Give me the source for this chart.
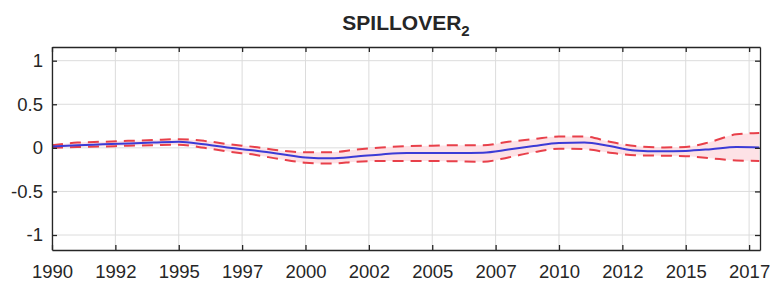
<!DOCTYPE html>
<html lang="en">
  <head>
    <meta charset="UTF-8" />
    <title>SPILLOVER 2</title>
    <style>
      body {
        margin: 0;
        background: #fff;
      }
      svg text {
        font-family: "Liberation Sans", Arial, sans-serif;
        fill: #262626;
      }
      .grid line {
        stroke: #dcdcdc;
        stroke-width: 1;
      }
      .axis path,
      .axis line {
        stroke: #262626;
        stroke-width: 1.3;
      }
      .band {
        fill: #fde2e6;
      }
      .bound {
        fill: none;
        stroke: #e8404a;
        stroke-width: 2;
        stroke-dasharray: 11 7;
      }
      .center {
        fill: none;
        stroke: #3b3bd6;
        stroke-width: 2;
      }
    </style>
  </head>
  <body>
    <script src="https://d3js.org/d3.v7.min.js"></script>
    <script>
      // values
      const years = [
        1990, 1991, 1992, 1993, 1994, 1995, 1996, 1997, 1998, 1999, 2000,
        2001, 2002, 2003, 2004, 2005, 2006, 2007, 2008, 2009, 2010, 2011,
        2012, 2013, 2014, 2015, 2016, 2017, 2017.9,
      ];
      const median = [
        0.015, 0.03, 0.04, 0.05, 0.06, 0.07, 0.04, 0.0, -0.03, -0.07, -0.11,
        -0.12, -0.1, -0.075, -0.06, -0.06, -0.06, -0.055, -0.02, 0.02, 0.055,
        0.06, 0.02, -0.03, -0.04, -0.035, -0.015, 0.01, 0.005,
      ];
      const upper = [
        0.03, 0.06, 0.07, 0.08, 0.09, 0.1, 0.08, 0.04, 0.01, -0.03, -0.05,
        -0.05, -0.02, 0.005, 0.02, 0.025, 0.03, 0.03, 0.07, 0.1, 0.13, 0.13,
        0.07, 0.02, 0.005, 0.01, 0.07, 0.155, 0.17,
      ];
      const lower = [
        0.0, 0.01, 0.015, 0.025, 0.03, 0.035, 0.0, -0.045, -0.08, -0.13,
        -0.17, -0.18, -0.16, -0.15, -0.15, -0.15, -0.155, -0.16, -0.11,
        -0.05, -0.01, -0.015, -0.055, -0.085, -0.09, -0.095, -0.12, -0.145,
        -0.15,
      ];
      const xTicks = [
        1990, 1992.5, 1995, 1997.5, 2000, 2002.5, 2005, 2007.5, 2010,
        2012.5, 2015, 2017.5,
      ];
      const xTickLabels = [
        "1990", "1992", "1995", "1997", "2000", "2002", "2005", "2007",
        "2010", "2012", "2015", "2017",
      ];
      const yTicks = [-1, -0.5, 0, 0.5, 1];

      function makeChart() {
        const width = 780;
        const height = 292;
        const margin = { top: 47, right: 20, bottom: 42, left: 52 };

        const svg = d3
          .select("body")
          .append("svg")
          .attr("width", width)
          .attr("height", height);

        const x = d3
          .scaleLinear()
          .domain([1990, 2017.93])
          .range([margin.left, width - margin.right]);

        const y = d3
          .scaleLinear()
          .domain([-1.172, 1.157])
          .range([height - margin.bottom, margin.top]);

        const series = years.map((yr, i) => ({
          year: yr,
          mid: median[i],
          hi: upper[i],
          lo: lower[i],
        }));

        // grid
        const grid = svg.append("g").attr("class", "grid");
        grid
          .selectAll(".gx")
          .data(xTicks)
          .join("line")
          .attr("x1", (d) => x(d))
          .attr("x2", (d) => x(d))
          .attr("y1", y.range()[1])
          .attr("y2", y.range()[0]);
        grid
          .selectAll(".gy")
          .data(yTicks)
          .join("line")
          .attr("x1", x.range()[0])
          .attr("x2", x.range()[1])
          .attr("y1", (d) => y(d))
          .attr("y2", (d) => y(d));

        const curve = d3.curveMonotoneX;

        const area = d3
          .area()
          .curve(curve)
          .x((d) => x(d.year))
          .y0((d) => y(d.lo))
          .y1((d) => y(d.hi));

        svg.append("path").datum(series).attr("class", "band").attr("d", area);

        const line = (key) =>
          d3
            .line()
            .curve(curve)
            .x((d) => x(d.year))
            .y((d) => y(d[key]));

        svg
          .append("path")
          .datum(series)
          .attr("class", "bound")
          .attr("d", line("hi"));
        svg
          .append("path")
          .datum(series)
          .attr("class", "bound")
          .attr("d", line("lo"));
        svg
          .append("path")
          .datum(series)
          .attr("class", "center")
          .attr("d", line("mid"));

        // axes (box with inward ticks)
        const xAxis = d3
          .axisBottom(x)
          .tickValues(xTicks)
          .tickFormat((d, i) => xTickLabels[i])
          .tickSizeInner(-5)
          .tickSizeOuter(0)
          .tickPadding(15);
        svg
          .append("g")
          .attr("class", "axis")
          .attr("transform", `translate(0, ${y.range()[0]})`)
          .call(xAxis)
          .selectAll("text")
          .style("font-size", "18.5px");

        svg
          .append("g")
          .attr("class", "axis")
          .attr("transform", `translate(0, ${y.range()[1]})`)
          .call(
            d3
              .axisTop(x)
              .tickValues(xTicks)
              .tickFormat("")
              .tickSizeInner(-5)
              .tickSizeOuter(0)
          );

        const yAxis = d3
          .axisLeft(y)
          .tickValues(yTicks)
          .tickFormat((d) => String(d))
          .tickSizeInner(-5)
          .tickSizeOuter(0)
          .tickPadding(9);
        svg
          .append("g")
          .attr("class", "axis")
          .attr("transform", `translate(${x.range()[0]}, 0)`)
          .call(yAxis)
          .selectAll("text")
          .style("font-size", "18.5px");

        svg
          .append("g")
          .attr("class", "axis")
          .attr("transform", `translate(${x.range()[1]}, 0)`)
          .call(
            d3
              .axisRight(y)
              .tickValues(yTicks)
              .tickFormat("")
              .tickSizeInner(-5)
              .tickSizeOuter(0)
          );

        // title with subscript
        const title = svg
          .append("text")
          .attr("x", (x.range()[0] + x.range()[1]) / 2)
          .attr("y", 30)
          .attr("text-anchor", "middle")
          .style("font-size", "21px")
          .style("font-weight", "bold");
        title.append("tspan").text("SPILLOVER");
        title
          .append("tspan")
          .attr("dy", 6)
          .style("font-size", "15px")
          .text("2");
      }

      makeChart();
    </script>
  </body>
</html>
